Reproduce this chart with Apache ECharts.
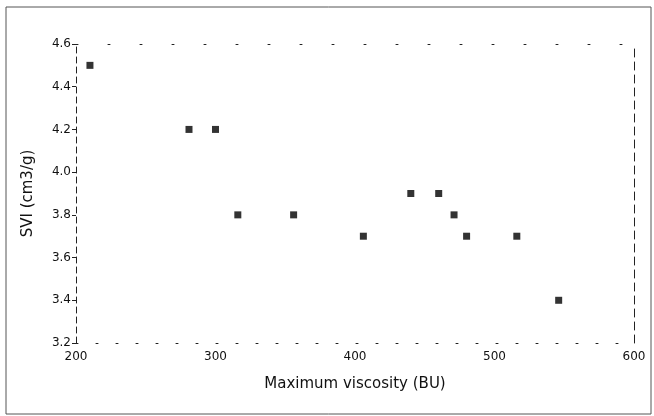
<!DOCTYPE html>
<html>
<head>
<meta charset="utf-8">
<script src="https://cdn.jsdelivr.net/npm/echarts@6/dist/echarts.min.js"></script>
<style>
  html, body { margin: 0; padding: 0; background: #fff; }
  #chart { width: 654px; height: 416px; }
</style>
</head>
<body>
<div id="chart"></div>
<script>
// values
const viscosity = [210, 281, 300, 316, 356, 406, 440, 460, 471, 480, 516, 546];
const svi = [4.5, 4.2, 4.2, 3.8, 3.8, 3.7, 3.9, 3.9, 3.8, 3.7, 3.7, 3.4];
const xTicks = [200, 300, 400, 500, 600];
const yTicks = [3.2, 3.4, 3.6, 3.8, 4.0, 4.2, 4.4, 4.6];

const points = viscosity.map((v, i) => [v, svi[i]]);

const myChart = echarts.init(document.getElementById('chart'));
const option = {
  animation: false,
  backgroundColor: '#fff',
  graphic: [{
    type: 'rect',
    shape: { x: 6, y: 7, width: 645, height: 407 },
    style: { fill: 'none', stroke: '#555', lineWidth: 1 }
  }],
  grid: { left: 76, right: 20, top: 44, bottom: 73 },
  xAxis: [{
    type: 'value',
    min: xTicks[0],
    max: xTicks[xTicks.length - 1],
    interval: 100,
    name: 'Maximum viscosity (BU)',
    nameLocation: 'middle',
    nameGap: 34,
    nameTextStyle: { color: '#111', fontSize: 15, fontFamily: 'DejaVu Sans' },
    axisLine: { show: true, lineStyle: { color: '#222', type: [2, 18], width: 1 } },
    axisTick: { show: false },
    axisLabel: { color: '#111', fontSize: 12, fontFamily: 'DejaVu Sans', margin: 8 },
    splitLine: { show: false }
  }, {
    type: 'value',
    position: 'top',
    min: xTicks[0],
    max: xTicks[xTicks.length - 1],
    axisLine: { show: true, lineStyle: { color: '#222', type: [2, 30], width: 1 } },
    axisTick: { show: false },
    axisLabel: { show: false },
    splitLine: { show: false }
  }],
  yAxis: [{
    type: 'value',
    min: yTicks[0],
    max: yTicks[yTicks.length - 1],
    interval: 0.2,
    name: 'SVI (cm3/g)',
    nameLocation: 'middle',
    nameGap: 40,
    nameTextStyle: { color: '#111', fontSize: 15, fontFamily: 'DejaVu Sans' },
    axisLine: { show: true, lineStyle: { color: '#222', type: [6, 4], width: 1 } },
    axisTick: { show: true, length: 4, lineStyle: { color: '#222' } },
    axisLabel: {
      color: '#111', fontSize: 12, fontFamily: 'DejaVu Sans', margin: 5,
      formatter: v => v.toFixed(1)
    },
    splitLine: { show: false }
  }, {
    type: 'value',
    position: 'right',
    min: yTicks[0],
    max: yTicks[yTicks.length - 1],
    axisLine: { show: true, lineStyle: { color: '#222', type: [8, 5], width: 1 } },
    axisTick: { show: false },
    axisLabel: { show: false },
    splitLine: { show: false }
  }],
  series: [{
    type: 'scatter',
    data: points,
    symbol: 'rect',
    symbolSize: 7,
    itemStyle: { color: '#000' }
  }]
};
myChart.setOption(option, true);
</script>
</body>
</html>
